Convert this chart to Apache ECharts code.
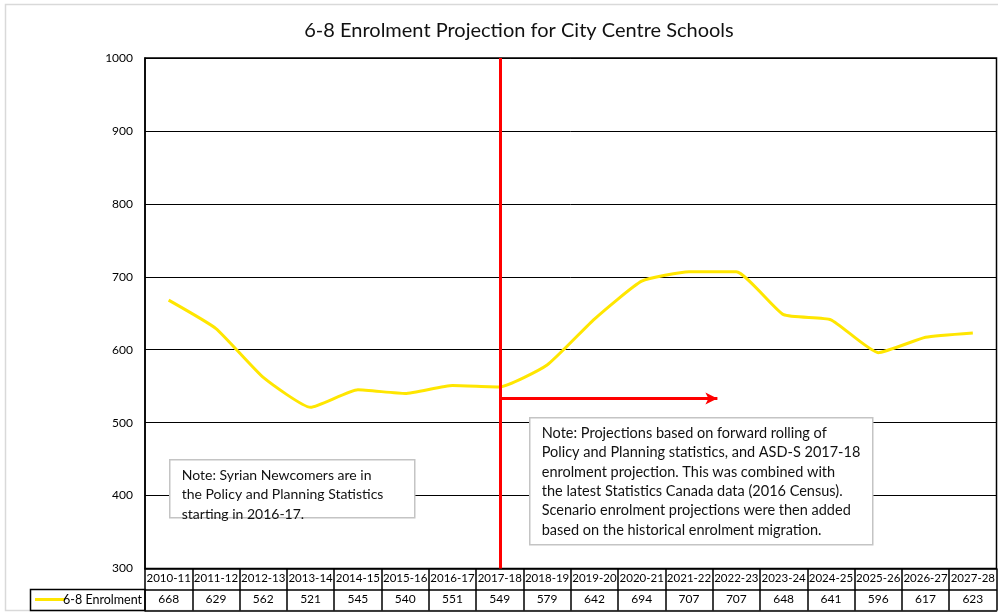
<!DOCTYPE html>
<html>
<head>
<meta charset="utf-8">
<script src="https://cdn.jsdelivr.net/npm/echarts@6/dist/echarts.min.js"></script>
<style>
  html, body { margin: 0; padding: 0; background: #fff; }
  #chart { width: 998px; height: 615px; }
</style>
</head>
<body>
<div id="chart"></div>
<script>
// Data
const years = ["2010-11", "2011-12", "2012-13", "2013-14", "2014-15", "2015-16",
  "2016-17", "2017-18", "2018-19", "2019-20", "2020-21", "2021-22", "2022-23",
  "2023-24", "2024-25", "2025-26", "2026-27", "2027-28"];
const enrolment = [668, 629, 562, 521, 545, 540, 551, 549, 579, 642, 694, 707, 707,
  648, 641, 596, 617, 623];
const yTicks = [300, 400, 500, 600, 700, 800, 900, 1000];
const seriesName = "6-8 Enrolment";

// projection marker: vertical line at 2017-18 (index 7), arrow ending part way
// between 2021-22 and 2022-23 (index positions)
const projStartIdx = 7;
const arrowEndIdx = 11.6;
const arrowLevel = 533;

const noteLeft = ["Note: Syrian Newcomers are in",
  "the Policy and Planning Statistics",
  "starting in 2016-17."];
const noteRight = ["Note: Projections based on forward rolling of",
  "Policy and Planning statistics, and ASD-S 2017-18",
  "enrolment projection. This was combined with",
  "the latest Statistics Canada data (2016 Census).",
  "Scenario enrolment projections were then added",
  "based on the historical enrolment migration."];

const font = "Lato, 'Open Sans', sans-serif";
const yellow = "#ffe600";
const chart = echarts.init(document.getElementById("chart"));

function noteBox(x, y, w, h, lines, size) {
  return {
    type: "group",
    left: x,
    top: y,
    z: 100,
    children: [
      {
        type: "rect",
        z: 100,
        shape: { x: 0, y: 0, width: w, height: h },
        style: { fill: "#fff", stroke: "#c4c4c4", lineWidth: 1.5 },
      },
      {
        type: "text",
        z: 101,
        x: 12,
        y: 6,
        style: {
          text: lines.join("\n"),
          font: size + "px " + font,
          fill: "#111",
          lineHeight: 19.3,
        },
      },
    ],
  };
}

const option = {
  backgroundColor: "#fff",
  animation: false,
  title: {
    text: "6-8 Enrolment Projection for City Centre Schools",
    left: 514,
    textAlign: "center",
    top: 16,
    textStyle: { fontFamily: font, fontSize: 20, fontWeight: "normal", color: "#111" },
  },
  grid: {
    left: 145,
    right: 1.5,
    top: 58,
    bottom: 46.5,
    show: true,
    borderColor: "#000",
    borderWidth: 1.5,
  },
  xAxis: [
    {
      type: "category",
      data: years,
      boundaryGap: true,
      axisLine: { lineStyle: { color: "#000", width: 1.5 } },
      axisTick: { show: true, length: 42, lineStyle: { color: "#000", width: 1.5 } },
      axisLabel: { fontFamily: font, fontSize: 11.5, color: "#000", margin: 4, interval: 0 },
    },
    {
      type: "category",
      data: years,
      position: "bottom",
      offset: 21,
      axisLine: { lineStyle: { color: "#000", width: 1.5 } },
      axisTick: { show: false },
      axisLabel: {
        fontFamily: font, fontSize: 12, color: "#000", margin: 4, interval: 0,
        formatter: (v, i) => String(enrolment[i]),
      },
    },
    {
      type: "category",
      data: years,
      position: "bottom",
      offset: 42,
      axisLine: { lineStyle: { color: "#000", width: 1.5 } },
      axisTick: { show: false },
      axisLabel: { show: false },
    },
    {
      // hidden index axis for the projection marker
      type: "value",
      min: -0.5,
      max: years.length - 0.5,
      show: false,
    },
  ],
  yAxis: {
    type: "value",
    min: yTicks[0],
    max: yTicks[yTicks.length - 1],
    interval: 100,
    axisLine: { show: true, onZero: false, lineStyle: { color: "#000", width: 1.5 } },
    axisTick: { show: false },
    axisLabel: {
      fontFamily: font, fontSize: 12, color: "#000", margin: 12,
      formatter: (v) => String(v),
    },
    splitLine: { lineStyle: { color: "#000", width: 1 } },
  },
  series: [
    {
      name: seriesName,
      type: "line",
      data: enrolment,
      symbol: "none",
      smooth: 0.15,
      lineStyle: { color: yellow, width: 3 },
      itemStyle: { color: yellow },
    },
    {
      name: "projection",
      type: "line",
      xAxisIndex: 3,
      data: [],
      markLine: {
        silent: true,
        animation: false,
        label: { show: false },
        lineStyle: { color: "#ff0000", width: 3, type: "solid" },
        data: [
          [
            { coord: [projStartIdx, yTicks[0]], symbol: "none" },
            { coord: [projStartIdx, yTicks[yTicks.length - 1]], symbol: "none" },
          ],
          [
            { coord: [projStartIdx, arrowLevel], symbol: "none" },
            { coord: [arrowEndIdx, arrowLevel], symbol: "arrow", symbolSize: [9, 12] },
          ],
        ],
      },
    },
  ],
  graphic: [
    {
      type: "rect",
      shape: { x: 5.5, y: 4.5, width: 1000, height: 606 },
      style: { fill: "none", stroke: "#d9d9d9", lineWidth: 1.5 },
      z: -10,
    },
    {
      type: "rect",
      shape: { x: 30.5, y: 589.5, width: 114.5, height: 21 },
      style: { fill: "none", stroke: "#000", lineWidth: 1.5 },
      z: 50,
    },
    {
      // legend key inside the data table
      type: "line",
      shape: { x1: 35, y1: 599.5, x2: 65, y2: 599.5 },
      style: { stroke: yellow, lineWidth: 3 },
      z: 50,
    },
    {
      type: "text",
      x: 142,
      y: 600,
      style: {
        text: seriesName,
        font: "12.5px " + font,
        fill: "#000",
        align: "right",
        verticalAlign: "middle",
      },
      z: 50,
    },
    noteBox(169, 459, 245, 58, noteLeft, 14),
    noteBox(529, 417, 343, 127, noteRight, 14.5),
  ],
};

chart.setOption(option);
</script>
</body>
</html>
